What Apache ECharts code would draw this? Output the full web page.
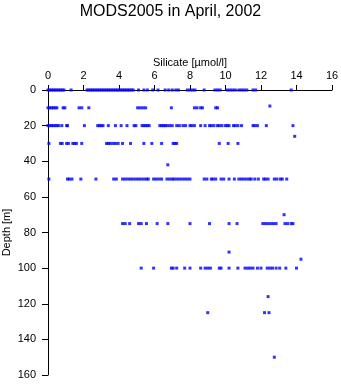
<!DOCTYPE html>
<html><head><meta charset="utf-8">
<script src="https://cdn.jsdelivr.net/npm/echarts@6/dist/echarts.min.js"></script>
<style>html,body{margin:0;padding:0;background:#fff}#c{width:341px;height:384px}</style>
</head><body><div id="c"></div>
<script>
const titleText = "MODS2005 in April, 2002";
const xName = "Silicate [\u00b5mol/l]";
const yName = "Depth [m]";
const xTicks = [0,2,4,6,8,10,12,14,16];
const yTicks = [0,20,40,60,80,100,120,140,160];

// silicate values per depth level
const d0 = [0,0.1,0.2,0.3,0.4,0.5,0.6,0.7,0.8,0.9,1.3,2.2,2.3,2.4,2.5,2.6,2.7,2.8,2.9,3.0,3.1,3.2,3.3,3.4,3.5,3.6,3.7,3.8,3.9,4.0,4.1,4.2,4.3,4.4,4.5,4.6,4.7,4.8,5.1,5.4,5.6,5.9,6.2,6.6,6.8,7.0,7.2,7.35,7.85,8.0,8.15,8.28,8.8,9.4,9.55,9.7,10.1,10.25,10.4,10.55,10.75,10.9,11.05,11.2,11.55,11.7,13.7];
const d10 = [0,0.1,0.2,0.3,0.4,0.5,0.85,0.95,1.75,1.9,2.3,5.05,5.2,5.35,5.5,6.95,8.25,8.4,8.6,8.7,9.45,9.55];
const d20 = [0,0.1,0.2,0.3,0.4,0.5,0.6,0.78,1.05,1.1,2.05,2.8,2.9,3.0,3.1,3.4,3.8,4.12,4.45,4.85,4.95,5.3,5.4,5.5,5.6,5.7,6.3,6.4,6.5,6.6,6.7,6.85,7.0,7.25,7.4,7.6,7.75,8.0,8.1,8.25,8.6,8.85,9.1,9.2,9.35,9.55,9.65,9.8,10.0,10.1,10.2,10.45,10.55,10.7,10.9,11.55,11.65,11.8,12.3,13.8];
const d30 = [0.05,0.7,0.8,1.05,1.15,1.4,1.5,1.6,1.9,3.3,3.4,3.5,3.65,3.8,3.95,4.2,4.65,5.4,5.85,6.4,7.05,7.15,7.25,9.65,10.15,10.7];
const d50 = [0.05,1.1,1.2,1.35,1.85,2.7,3.7,3.85,4.2,4.35,4.5,4.65,4.8,4.95,5.1,5.25,5.4,5.55,5.65,5.95,6.1,6.25,6.4,6.7,6.85,7.0,7.1,7.25,7.4,7.55,7.7,7.85,8.0,8.8,8.95,9.2,9.3,9.45,9.75,9.9,10.2,10.5,10.75,10.9,11.05,11.2,11.35,11.45,11.65,11.85,12.15,12.25,12.4,12.75,12.9,13.1,13.2,13.45];
const d75 = [4.2,4.35,4.6,5.1,5.25,5.55,6.15,6.75,8.0,9.1,10.2,10.65,12.1,12.25,12.4,12.55,12.7,12.85,13.35,13.5,13.7,13.8];
const d100 = [5.25,5.95,6.95,7.05,7.25,7.7,8.0,8.6,8.85,9.0,9.15,9.65,9.75,10.2,10.7,11.1,11.25,11.4,11.55,11.8,12.0,12.35,12.5,12.65,12.85,13.05,13.4,14.0];
const d125 = [9.0,12.2,12.45];
// isolated samples: [silicate, depth]
const extras = [[12.5,9],[13.9,26],[6.75,42],[13.3,70],[10.2,91],[14.25,95],[12.4,116],[12.75,150]];

const levels = [[0,d0],[10,d10],[20,d20],[30,d30],[50,d50],[75,d75],[100,d100],[125,d125]];
const pts = [];
levels.forEach(([d, arr]) => arr.forEach(v => pts.push([v, d])));
extras.forEach(p => pts.push(p));

const font = "Liberation Sans, Arial, Helvetica, sans-serif";
const chart = echarts.init(document.getElementById('c'), null, {renderer:'canvas'});
chart.setOption({
  animation:false,
  backgroundColor:'#fff',
  title:{text:titleText,left:'center',top:-1,textStyle:{fontFamily:font,fontSize:16,fontWeight:'normal',color:'#000'}},
  grid:{left:48,top:90,width:284,height:285,containLabel:false,outerBoundsMode:'none'},
  xAxis:{type:'value',position:'top',min:xTicks[0],max:xTicks[xTicks.length-1],interval:2,
    name:xName,nameLocation:'middle',nameGap:22,nameMoveOverlap:false,
    nameTextStyle:{fontFamily:font,fontSize:11,color:'#000'},
    axisLine:{show:true,onZero:false,lineStyle:{color:'#000',width:1}},
    axisTick:{show:true,length:5,lineStyle:{color:'#000'}},
    axisLabel:{fontFamily:font,fontSize:11,color:'#000',margin:9},
    splitLine:{show:false}},
  yAxis:{type:'value',inverse:true,min:yTicks[0],max:yTicks[yTicks.length-1],interval:20,
    name:yName,nameLocation:'middle',nameGap:36,nameMoveOverlap:false,
    nameTextStyle:{fontFamily:font,fontSize:11,color:'#000'},
    axisLine:{show:true,onZero:false,lineStyle:{color:'#000',width:1}},
    axisTick:{show:true,length:6,lineStyle:{color:'#000'}},
    axisLabel:{fontFamily:font,fontSize:11,color:'#000',margin:12},
    splitLine:{show:false}},
  series:[{type:'scatter',data:pts,symbol:'rect',symbolSize:3,itemStyle:{color:'#0000ff'}}]
});
</script></body></html>
